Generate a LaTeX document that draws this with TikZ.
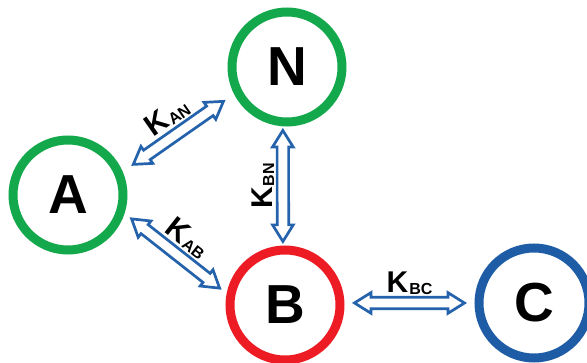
\documentclass[tikz,border=0pt]{standalone}
\usepackage{fontspec}
\setmainfont{Liberation Sans}
\usetikzlibrary{shapes.arrows}

\definecolor{ringgreen}{HTML}{12A84B}
\definecolor{ringred}{HTML}{ED1C24}
\definecolor{ringblue}{HTML}{1F5CA6}
\definecolor{arrowblue}{HTML}{2462AB}

\tikzset{
  state/.style={circle, draw=#1, line width=9pt, minimum size=110pt,
    inner sep=0pt, font=\fontsize{55}{55}\selectfont\bfseries},
  link/.style={double arrow, draw=arrowblue, fill=white, line width=2.7pt,
    inner xsep=0pt, inner ysep=4.4pt, minimum height=#1, minimum width=18pt,
    double arrow head extend=4.6pt, double arrow tip angle=64, sloped},
  rate/.style={sloped, above=8.5pt, inner sep=0pt}
}

% rate constant K with a bold subscript
\newcommand{\rateK}[1]{{\fontsize{30}{30}\selectfont\bfseries K}\kern1pt\raisebox{-1.5pt}{\fontsize{16}{16}\selectfont\bfseries #1}}

\begin{document}
\begin{tikzpicture}[x=1pt, y=-1pt]
  \useasboundingbox (0,0) rectangle (587,363);

  % states
  \node[state=ringgreen] (A) at (68,195)  {A};
  \node[state=ringgreen] (N) at (287,67)  {N};
  \node[state=ringred]   (B) at (285,305) {B};
  \node[state=ringblue]  (C) at (534,303) {C};

  % reversible exchanges
  \path (A.23)  -- node[link=110pt]{} node[rate]{\rateK{AN}} (N.207);
  \path (B.92)  -- node[link=111pt, allow upside down]{}
                   node[rate, allow upside down]{\rateK{BN}} (N.266);
  \path (A.342) -- node[link=112pt]{} node[rate]{\rateK{AB}} (B.169);
  \path (B.2)   -- node[link=110pt]{} node[rate]{\rateK{BC}} (C.180);
\end{tikzpicture}
\end{document}
